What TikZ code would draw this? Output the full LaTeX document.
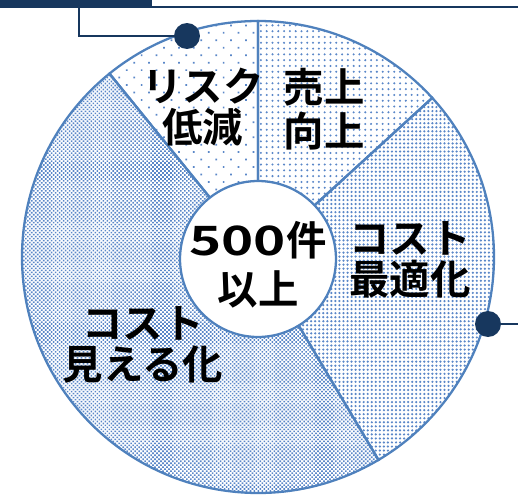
\documentclass[tikz,border=0pt]{standalone}
\usepackage{fontspec}
\newfontfamily\jpfont{Noto Sans CJK JP Bold}
\newfontfamily\jpwide{Noto Sans CJK JP Bold}[FakeStretch=1.35]
\usetikzlibrary{patterns.meta}
\definecolor{navy}{RGB}{23,55,94}
\definecolor{pieline}{RGB}{79,129,189}
\definecolor{piedot}{RGB}{90,135,200}
\begin{document}
\begin{tikzpicture}[x=0.02cm, y=0.02cm]
\tikzstyle{lbl}=[font=\jpfont\fontsize{23}{23}\selectfont, align=center, inner sep=0pt]
\tikzstyle{slice}=[draw=pieline, line width=1.3pt, pattern color=piedot]
\tikzstyle{dot}=[circle, fill=navy, inner sep=0pt, minimum size=0.52cm]
\useasboundingbox (0,0) rectangle (518,495);

% header strip
\fill[navy] (0,495) rectangle (518,487);
\fill[white] (152,495) rectangle (518,489);

\coordinate (O) at (258,238);
\draw[slice, pattern={Dots[distance=6pt, radius=0.7pt, angle=45]}] (O) -- ++(90:236) arc[start angle=90, end angle=129, radius=236] -- cycle;
\draw[slice, pattern={Dots[distance=3.3pt, radius=0.65pt]}] (O) -- ++(42.4:236) arc[start angle=42.4, end angle=90, radius=236] -- cycle;
\draw[slice, pattern={Dots[distance=2.3pt, radius=0.7pt]}] (O) -- ++(-59.3:236) arc[start angle=-59.3, end angle=42.4, radius=236] -- cycle;
\draw[slice, pattern={Dots[distance=1.6pt, radius=0.65pt, angle=45]}] (O) -- ++(129:236) arc[start angle=129, end angle=300.7, radius=236] -- cycle;

\node[circle, draw=pieline, line width=1.3pt, fill=white, minimum size=3.12cm] (hub) at (258,236) {};

\node[lbl] (risk) at (203,388) {リスク\\低減};
\node[lbl, font=\jpfont\fontsize{23}{25}\selectfont] (sales) at (324,386) {売上\\向上};
\node[lbl] (costopt) at (410,235) {コスト\\最適化};
\node[lbl] (costvis) at (143,150) {コスト\\見える化};
\node[lbl, font=\jpfont\fontsize{23}{28}\selectfont] (hubtxt) at (258,230) {{\jpwide 500}件\\以上};

% markers
\node[dot] (d1) at (187,459) {};
\node[dot] (d2) at (488,171) {};
\coordinate (h1) at (79,488);
\coordinate (h2) at (518,171);
\draw[navy, line width=1.4pt] (h1) |- (d1);
\draw[navy, line width=1.4pt] (d2) -- (h2);
\end{tikzpicture}
\end{document}
